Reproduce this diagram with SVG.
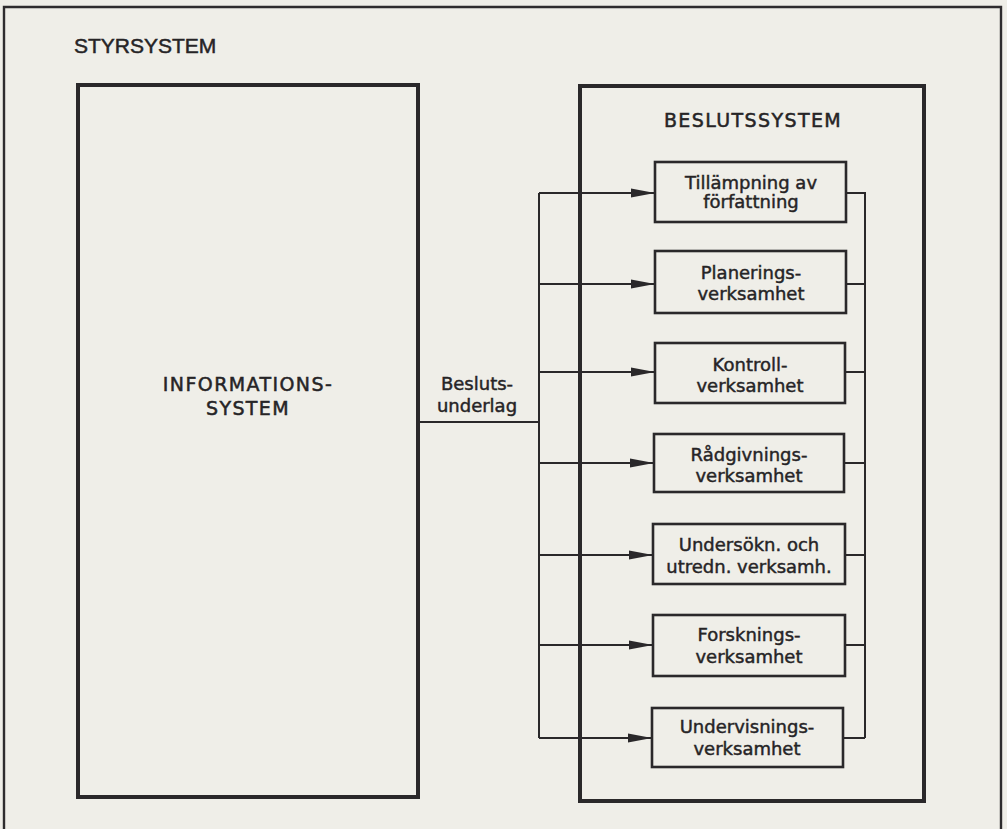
<svg xmlns="http://www.w3.org/2000/svg" width="1007" height="829" viewBox="0 0 1007 829">
<defs>
<style>
.bg{fill:#efeee8}
.frame{fill:none;stroke:#2e2c2e;stroke-width:2.4}
.big{fill:none;stroke:#2a282a;stroke-width:4}
.box{fill:none;stroke:#2a282a;stroke-width:2.6}
.con{fill:none;stroke:#2a282a;stroke-width:2}
.t{font-family:"DejaVu Sans",sans-serif;font-size:18px;fill:#262426;stroke:#262426;stroke-width:0.45;text-anchor:middle}
.h{font-family:"DejaVu Sans",sans-serif;font-size:19px;letter-spacing:1.4px;fill:#262426;stroke:#262426;stroke-width:0.5;text-anchor:middle}
.s{font-family:"Liberation Sans",Arial,sans-serif;font-size:21px;fill:#262426;stroke:#262426;stroke-width:0.5}
</style>
<marker id="arr" markerWidth="24" markerHeight="10" refX="24" refY="5" orient="auto" markerUnits="userSpaceOnUse">
<path d="M0,0.5 L24,5 L0,9.5 Z" fill="#2a282a"/>
</marker>
</defs>
<rect class="bg" x="0" y="0" width="1007" height="829"/>
<g id="frame">
<path class="frame" d="M4,829 V7 H1001 V829"/>
<text class="s" x="74" y="53">STYRSYSTEM</text>
</g>
<g id="informationssystem">
<rect class="big" x="78" y="85" width="340" height="712"/>
<text class="h" x="248" y="391">INFORMATIONS-</text>
<text class="h" x="248" y="415">SYSTEM</text>
</g>
<g id="beslutssystem">
<rect class="big" x="580" y="86" width="344" height="715"/>
<text class="h" x="753" y="127">BESLUTSSYSTEM</text>
</g>
<g id="connectors">
<path class="con" d="M418,422 H539"/>
<path class="con" d="M539,193 V738"/>
<path class="con" d="M865,193 V738"/>
<path class="con" d="M539,193 H655" marker-end="url(#arr)"/>
<path class="con" d="M539,284 H655" marker-end="url(#arr)"/>
<path class="con" d="M539,372 H655" marker-end="url(#arr)"/>
<path class="con" d="M539,463 H654" marker-end="url(#arr)"/>
<path class="con" d="M539,555 H653" marker-end="url(#arr)"/>
<path class="con" d="M539,645 H653" marker-end="url(#arr)"/>
<path class="con" d="M539,738 H652" marker-end="url(#arr)"/>
<path class="con" d="M846,193 H866"/>
<path class="con" d="M846,284 H865"/>
<path class="con" d="M845,372 H865"/>
<path class="con" d="M844,463 H865"/>
<path class="con" d="M845,555 H865"/>
<path class="con" d="M845,645 H865"/>
<path class="con" d="M843,738 H865"/>
<text class="t" x="477" y="390">Besluts-</text>
<text class="t" x="477" y="412">underlag</text>
</g>
<g id="tillampning">
<rect class="box" x="655" y="162" width="191" height="60"/>
<text class="t" x="751" y="189">Tillämpning av</text>
<text class="t" x="751" y="208">författning</text>
</g>
<g id="planering">
<rect class="box" x="655" y="251" width="191" height="62"/>
<text class="t" x="751" y="279">Planerings-</text>
<text class="t" x="751" y="300">verksamhet</text>
</g>
<g id="kontroll">
<rect class="box" x="655" y="343" width="190" height="60"/>
<text class="t" x="750" y="371">Kontroll-</text>
<text class="t" x="750" y="392">verksamhet</text>
</g>
<g id="radgivning">
<rect class="box" x="654" y="434" width="190" height="58"/>
<text class="t" x="749" y="461">Rådgivnings-</text>
<text class="t" x="749" y="482">verksamhet</text>
</g>
<g id="undersokning">
<rect class="box" x="653" y="524" width="192" height="60"/>
<text class="t" x="749" y="551">Undersökn. och</text>
<text class="t" x="749" y="573">utredn. verksamh.</text>
</g>
<g id="forskning">
<rect class="box" x="653" y="615" width="192" height="61"/>
<text class="t" x="749" y="641">Forsknings-</text>
<text class="t" x="749" y="663">verksamhet</text>
</g>
<g id="undervisning">
<rect class="box" x="652" y="708" width="191" height="59"/>
<text class="t" x="747" y="733">Undervisnings-</text>
<text class="t" x="747" y="755">verksamhet</text>
</g>
</svg>
